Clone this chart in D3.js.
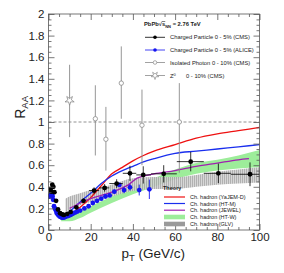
<!DOCTYPE html>
<html><head><meta charset="utf-8">
<script src="https://cdn.jsdelivr.net/npm/d3@7"></script>
<style>body{margin:0;background:#fff}svg{display:block;font-family:"Liberation Sans",Arial,sans-serif}</style>
</head><body><svg id="c" width="284" height="273"></svg>
<script>
// ---- data ----
const xTicks = [0, 20, 40, 60, 80, 100];
const xTickLabels = ["0", "20", "40", "60", "80", "100"];
const yTicks = [0, 0.2, 0.4, 0.6, 0.8, 1, 1.2, 1.4, 1.6, 1.8, 2];
const yTickLabels = ["0", "0.2", "0.4", "0.6", "0.8", "1", "1.2", "1.4", "1.6", "1.8", "2"];

// CMS charged particles 0-5%
const cmsX = [1.0, 1.3, 1.8, 2.3, 2.8, 3.6, 4.5, 5.5, 6.5, 7.3, 8.9, 10.5, 13.2, 16.6, 21.6, 26.6, 32.3, 38.6, 44.9, 54.6, 67.4, 80.5, 95.5];
const cmsY = [0.38, 0.355, 0.42, 0.40, 0.35, 0.27, 0.19, 0.155, 0.145, 0.14, 0.15, 0.167, 0.21, 0.27, 0.365, 0.39, 0.43, 0.525, 0.51, 0.52, 0.633, 0.525, 0.516];
const cmsErr = [0.01, 0.01, 0.01, 0.01, 0.01, 0.01, 0.01, 0.01, 0.01, 0.01, 0.01, 0.01, 0.015, 0.02, 0.03, 0.035, 0.04, 0.07, 0.08, 0.08, 0.09, 0.09, 0.11];
const cmsXLo = [1.0, 1.3, 1.8, 2.3, 2.8, 3.6, 4.5, 5.5, 6.5, 7.3, 8.9, 10.5, 13.2, 16.6, 19.2, 24.0, 28.8, 35.2, 41.6, 48.6, 60.8, 73.6, 86.4];
const cmsXHi = [1.0, 1.3, 1.8, 2.3, 2.8, 3.6, 4.5, 5.5, 6.5, 7.3, 8.9, 10.5, 13.2, 16.6, 24.0, 28.8, 35.2, 41.6, 48.6, 60.8, 73.6, 86.4, 103.6];

// ALICE charged particles 0-5%
const aliX = [0.3, 0.5, 0.7, 0.9, 1.1, 1.3, 1.5, 1.7, 1.9, 2.2, 2.6, 3.0, 3.4, 3.8, 4.3, 4.8, 5.3, 5.8, 6.3, 6.8, 7.3, 7.8, 8.5, 9.5, 10.5, 11.5, 12.5, 13.5, 15, 17, 19, 21, 23, 25, 27, 29, 31.2, 33.6, 35.8, 38.6, 43, 47.8];
const aliY = [0.31, 0.31, 0.32, 0.32, 0.33, 0.33, 0.33, 0.32, 0.31, 0.28, 0.22, 0.2, 0.185, 0.16, 0.145, 0.135, 0.125, 0.12, 0.115, 0.115, 0.115, 0.12, 0.125, 0.13, 0.14, 0.15, 0.16, 0.17, 0.18, 0.2, 0.22, 0.25, 0.27, 0.29, 0.31, 0.32, 0.355, 0.417, 0.37, 0.395, 0.37, 0.377];
const aliErr = [0, 0, 0, 0, 0, 0, 0, 0, 0, 0, 0, 0, 0, 0, 0, 0, 0, 0, 0, 0, 0, 0, 0, 0, 0, 0, 0, 0, 0, 0, 0, 0, 0, 0, 0, 0, 0.02, 0.02, 0.03, 0.03, 0.05, 0.09];

// Isolated photons 0-10%
const phX = [22.2, 27.2, 34.5, 44.3, 62];
const phY = [1.03, 0.84, 1.36, 0.97, 1.0];
const phHi = [1.34, 1.14, 1.70, 1.30, 1.36];
const phLo = [0.69, 0.55, 1.03, 0.60, 0.53];

// Z0 0-10%
const zX = [10];
const zY = [1.2];
const zHi = [1.53];
const zLo = [0.86];

// Theory curves
const yajX = [11, 15, 20, 25, 30, 35, 40, 45, 50, 60, 70, 80, 90, 100];
const yajY = [0.15, 0.21, 0.30, 0.41, 0.52, 0.58, 0.64, 0.69, 0.73, 0.79, 0.85, 0.89, 0.92, 0.95];
const htmX = [8, 10, 15, 20, 25, 30, 35, 40, 45, 50, 60, 70, 80, 90, 100];
const htmY = [0.14, 0.17, 0.26, 0.34, 0.43, 0.50, 0.55, 0.59, 0.63, 0.66, 0.71, 0.73, 0.75, 0.77, 0.79];
const jewX = [10, 15, 20, 25, 30, 35, 38, 42, 45, 50, 60, 70, 80, 90, 95];
const jewY = [0.20, 0.25, 0.29, 0.32, 0.35, 0.39, 0.42, 0.48, 0.50, 0.52, 0.55, 0.59, 0.62, 0.65, 0.66];
const htwX = [6, 8, 10, 15, 20, 30, 40, 50, 60, 70, 80, 90, 100];
const htwLo = [0.08, 0.08, 0.08, 0.11, 0.16, 0.25, 0.33, 0.40, 0.47, 0.52, 0.55, 0.57, 0.58];
const htwHi = [0.11, 0.12, 0.13, 0.17, 0.22, 0.31, 0.40, 0.48, 0.56, 0.62, 0.65, 0.69, 0.74];
const glvX = [8, 10, 15, 20, 30, 40, 50, 60, 70, 80, 90, 100];
const glvLo = [0.17, 0.19, 0.23, 0.26, 0.31, 0.36, 0.38, 0.38, 0.40, 0.42, 0.43, 0.44];
const glvHi = [0.29, 0.31, 0.34, 0.37, 0.42, 0.48, 0.49, 0.49, 0.51, 0.54, 0.56, 0.58];

const dataLegend = ["Charged Particle 0 - 5% (CMS)", "Charged Particle 0 - 5% (ALICE)", "Isolated Photon 0 - 10% (CMS)", "0 - 10% (CMS)"];
const theoryLegend = ["Ch. hadron (YaJEM-D)", "Ch. hadron (HT-M)", "Ch. hadron (JEWEL)", "Ch. hadron (HT-W)", "Ch. hadron (GLV)"];

// ---- drawing ----
const svg = d3.select("#c");
const L = 48.5, R = 259.5, T = 14, B = 230;
const x = d3.scaleLinear().domain([0, 100]).range([L, R]);
const y = d3.scaleLinear().domain([0, 2]).range([B, T]);

const defs = svg.append("defs");
defs.append("clipPath").attr("id", "clip").append("rect")
  .attr("x", L).attr("y", T).attr("width", R - L).attr("height", B - T);
const pat = defs.append("pattern").attr("id", "hatch").attr("patternUnits", "userSpaceOnUse")
  .attr("width", 2).attr("height", 4);
pat.append("rect").attr("width", 2).attr("height", 4).attr("fill", "#d2d2d2");
pat.append("rect").attr("width", 1).attr("height", 4).attr("fill", "#a8a8a8");

const plot = svg.append("g").attr("clip-path", "url(#clip)");

// bands
const band = d3.area().x(d => x(d[0])).y0(d => y(d[1])).y1(d => y(d[2])).curve(d3.curveMonotoneX);
plot.append("path").datum(htwX.map((v, i) => [v, htwLo[i], htwHi[i]]))
  .attr("d", band).attr("fill", "#9ded9a");
plot.append("path").datum(glvX.map((v, i) => [v, glvLo[i], glvHi[i]]))
  .attr("d", band).attr("fill", "url(#hatch)").attr("opacity", 0.9);

// dashed unity line
plot.append("line").attr("x1", L).attr("x2", R).attr("y1", y(1)).attr("y2", y(1))
  .attr("stroke", "#777").attr("stroke-width", 0.8).attr("stroke-dasharray", "3,2");

// theory lines
const line = d3.line().x(d => x(d[0])).y(d => y(d[1])).curve(d3.curveMonotoneX);
const theory = [
  [yajX, yajY, "#ee1111"],
  [htmX, htmY, "#1a2fee"],
  [jewX, jewY, "#a020b0"]
];
theory.forEach(([xs, ys, col]) => {
  plot.append("path").datum(xs.map((v, i) => [v, ys[i]]))
    .attr("d", line).attr("fill", "none").attr("stroke", col).attr("stroke-width", 1.3);
});

// photons
const grey = "#8a8a8a";
phX.forEach((v, i) => {
  plot.append("line").attr("x1", x(v)).attr("x2", x(v)).attr("y1", y(phLo[i])).attr("y2", y(phHi[i]))
    .attr("stroke", grey).attr("stroke-width", 0.9);
  plot.append("circle").attr("cx", x(v)).attr("cy", y(phY[i])).attr("r", 2.2)
    .attr("fill", "#fff").attr("stroke", grey).attr("stroke-width", 0.8);
});
// Z
const star = d3.symbol().type(d3.symbolStar).size(26);
zX.forEach((v, i) => {
  plot.append("line").attr("x1", x(v)).attr("x2", x(v)).attr("y1", y(zLo[i])).attr("y2", y(zHi[i]))
    .attr("stroke", grey).attr("stroke-width", 0.9);
  plot.append("path").attr("d", star).attr("transform", `translate(${x(v)},${y(zY[i])}) rotate(180)`)
    .attr("fill", "#fff").attr("stroke", grey).attr("stroke-width", 0.8);
});

// ALICE
const blue = "#1414f0";
aliX.forEach((v, i) => {
  if (aliErr[i] > 0) plot.append("line").attr("x1", x(v)).attr("x2", x(v))
    .attr("y1", y(aliY[i] - aliErr[i])).attr("y2", y(aliY[i] + aliErr[i]))
    .attr("stroke", blue).attr("stroke-width", 0.9);
  plot.append("circle").attr("cx", x(v)).attr("cy", y(aliY[i])).attr("r", 2.4).attr("fill", blue);
});

// CMS
cmsX.forEach((v, i) => {
  plot.append("line").attr("x1", x(v)).attr("x2", x(v))
    .attr("y1", y(cmsY[i] - cmsErr[i])).attr("y2", y(cmsY[i] + cmsErr[i]))
    .attr("stroke", "#000").attr("stroke-width", 0.8);
  if (cmsXHi[i] > cmsXLo[i]) plot.append("line").attr("x1", x(cmsXLo[i])).attr("x2", x(cmsXHi[i]))
    .attr("y1", y(cmsY[i])).attr("y2", y(cmsY[i])).attr("stroke", "#000").attr("stroke-width", 0.8);
  plot.append("circle").attr("cx", x(v)).attr("cy", y(cmsY[i])).attr("r", 2.4).attr("fill", "#000");
});

// frame
svg.append("rect").attr("x", L).attr("y", T).attr("width", R - L).attr("height", B - T)
  .attr("fill", "none").attr("stroke", "#555").attr("stroke-width", 0.8);

// axes
const xMinor = d3.range(0, 101, 5).filter(v => v % 20 !== 0);
const yMinor = d3.range(0, 2.0001, 0.05).map(v => +v.toFixed(2)).filter(v => Math.abs(v * 5 - Math.round(v * 5)) > 1e-6);
function styleAxis(g) {
  g.select(".domain").remove();
  g.selectAll("line").attr("stroke", "#555").attr("stroke-width", 0.8);
  g.selectAll("text").attr("fill", "#222").style("font-size", "11.5px")
    .style("font-family", "'Liberation Sans',Arial,sans-serif");
}
svg.append("g").attr("transform", `translate(0,${B})`)
  .call(d3.axisBottom(x).tickValues(xTicks).tickFormat((d, i) => xTickLabels[i]).tickSize(-6).tickPadding(3)).call(styleAxis);
svg.append("g").attr("transform", `translate(0,${B})`)
  .call(d3.axisBottom(x).tickValues(xMinor).tickFormat("").tickSize(-3)).call(styleAxis);
svg.append("g").attr("transform", `translate(0,${T})`)
  .call(d3.axisTop(x).tickValues(xTicks).tickFormat("").tickSize(-6)).call(styleAxis);
svg.append("g").attr("transform", `translate(0,${T})`)
  .call(d3.axisTop(x).tickValues(xMinor).tickFormat("").tickSize(-3)).call(styleAxis);
svg.append("g").attr("transform", `translate(${L},0)`)
  .call(d3.axisLeft(y).tickValues(yTicks).tickFormat((d, i) => yTickLabels[i]).tickSize(-6).tickPadding(4)).call(styleAxis);
svg.append("g").attr("transform", `translate(${L},0)`)
  .call(d3.axisLeft(y).tickValues(yMinor).tickFormat("").tickSize(-3)).call(styleAxis);
svg.append("g").attr("transform", `translate(${R},0)`)
  .call(d3.axisRight(y).tickValues(yTicks).tickFormat("").tickSize(-6)).call(styleAxis);
svg.append("g").attr("transform", `translate(${R},0)`)
  .call(d3.axisRight(y).tickValues(yMinor).tickFormat("").tickSize(-3)).call(styleAxis);

// axis titles
const xt = svg.append("text").attr("x", 185).attr("y", 258).attr("text-anchor", "end")
  .attr("fill", "#222").style("font-size", "13.5px");
xt.append("tspan").text("p");
xt.append("tspan").attr("dy", 3).style("font-size", "9.5px").text("T");
xt.append("tspan").attr("dy", -3).text(" (GeV/c)");
const yt = svg.append("text").attr("transform", "translate(25,96) rotate(-90)").attr("text-anchor", "end")
  .attr("fill", "#222").style("font-size", "14px");
yt.append("tspan").text("R");
yt.append("tspan").attr("dy", 3).style("font-size", "9.5px").text("AA");

// data legend
const lg = svg.append("g").style("font-size", "5.8px").attr("fill", "#222");
const t0 = lg.append("text").attr("x", 144).attr("y", 26).style("font-weight", "bold");
t0.append("tspan").text("PbPb\u221A");
t0.append("tspan").style("text-decoration", "overline").text("s");
t0.append("tspan").attr("dy", 1.5).style("font-size", "4px").text("NN");
t0.append("tspan").attr("dy", -1.5).text(" = 2.76 TeV");
const legY = [37.3, 50, 62.5, 75.5];
const legCol = ["#000", blue, grey, grey];
legY.forEach((yy, i) => {
  lg.append("line").attr("x1", 145).attr("x2", 165).attr("y1", yy).attr("y2", yy)
    .attr("stroke", legCol[i]).attr("stroke-width", 0.8);
  if (i < 2) lg.append("circle").attr("cx", 155).attr("cy", yy).attr("r", 1.8).attr("fill", legCol[i]);
  else if (i === 2) lg.append("circle").attr("cx", 155).attr("cy", yy).attr("r", 1.8)
    .attr("fill", "#fff").attr("stroke", grey).attr("stroke-width", 0.7);
  else lg.append("path").attr("d", d3.symbol().type(d3.symbolStar).size(18))
    .attr("transform", `translate(155,${yy}) rotate(180)`).attr("fill", "#fff").attr("stroke", grey).attr("stroke-width", 0.7);
  if (i < 3) lg.append("text").attr("x", 170).attr("y", yy + 2).text(dataLegend[i]);
  else {
    const tz = lg.append("text").attr("x", 170).attr("y", yy + 2);
    tz.append("tspan").text("Z");
    tz.append("tspan").attr("dy", -2).style("font-size", "4px").text("0");
    lg.append("text").attr("x", 186).attr("y", yy + 2).text(dataLegend[i]);
  }
});

// theory legend
const tg = svg.append("g").style("font-size", "5.5px").attr("fill", "#222");
tg.append("text").attr("x", 163).attr("y", 190).style("font-weight", "bold").text("Theory");
const thY = [197, 203.5, 210.2, 217, 224];
const thCol = ["#ee1111", "#1a2fee", "#a020b0", "#9ded9a", "#9a9a9a"];
thY.forEach((yy, i) => {
  if (i < 3) tg.append("line").attr("x1", 164).attr("x2", 185).attr("y1", yy).attr("y2", yy)
    .attr("stroke", thCol[i]).attr("stroke-width", 1.2);
  else tg.append("rect").attr("x", 164).attr("y", yy - 2.3).attr("width", 21).attr("height", 4.6).attr("fill", thCol[i]);
  tg.append("text").attr("x", 190).attr("y", yy + 2).text(theoryLegend[i]);
});
</script></body></html>
